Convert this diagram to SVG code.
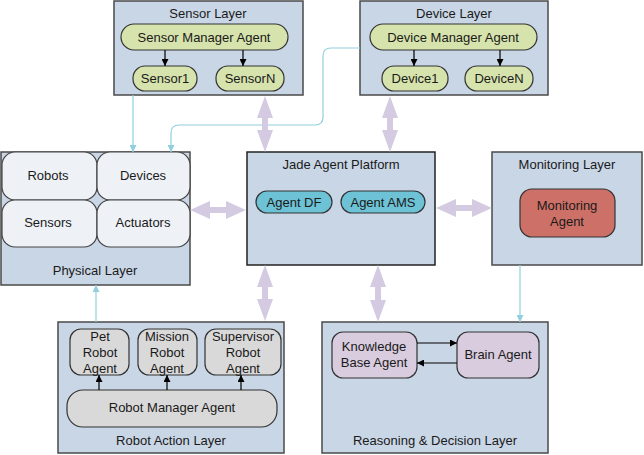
<svg xmlns="http://www.w3.org/2000/svg" width="644" height="455" viewBox="0 0 644 455">
<defs>
<marker id="blk" viewBox="0 0 10 10" refX="10" refY="5" markerWidth="7" markerHeight="7" markerUnits="userSpaceOnUse" orient="auto"><path d="M0,0 L10,5 L0,10 Z" fill="#000"/></marker>
<marker id="cy" viewBox="0 0 10 10" refX="10" refY="5" markerWidth="7" markerHeight="7" markerUnits="userSpaceOnUse" orient="auto"><path d="M0,0 L10,5 L0,10 Z" fill="#8FD0DC"/></marker>
</defs>
<style>
.layer{fill:#C9D6E6;stroke:#4a4a4a;stroke-width:1.5}
.green{fill:#D6E3AC;stroke:#333;stroke-width:1.2}
.cyanp{fill:#6EC2D5;stroke:#333;stroke-width:1.2}
.grey{fill:#D9D9D9;stroke:#333;stroke-width:1.2}
.lav{fill:#D9CCDF;stroke:#333;stroke-width:1.2}
.red{fill:#CD7067;stroke:#333;stroke-width:1.2}
.phys{fill:#EEF2F7;stroke:#444;stroke-width:1.2}
text{font-family:"Liberation Sans",Arial,sans-serif;font-size:13px;fill:#1a1a1a;text-anchor:middle}
.bl{fill:none;stroke:#000;stroke-width:1.2}
.cl{fill:none;stroke:#8FD0DC;stroke-width:1.2}
.big{fill:#D4CBE3}
</style>
<g id="sensor-layer">
<rect class="layer" x="114" y="1" width="189" height="94"/>
<text x="208" y="18">Sensor Layer</text>
<rect class="green" x="121" y="24" width="167" height="26" rx="13"/>
<text x="204" y="42">Sensor Manager Agent</text>
<rect class="green" x="133" y="66" width="64" height="25" rx="12"/>
<text x="165" y="83">Sensor1</text>
<rect class="green" x="216" y="66" width="68" height="25" rx="12"/>
<text x="250" y="83">SensorN</text>
</g>
<g id="device-layer">
<rect class="layer" x="360" y="1" width="188" height="94"/>
<text x="454" y="18">Device Layer</text>
<rect class="green" x="370" y="24" width="167" height="26" rx="13"/>
<text x="453" y="42">Device Manager Agent</text>
<rect class="green" x="382" y="66" width="66" height="25" rx="12"/>
<text x="415" y="83">Device1</text>
<rect class="green" x="465" y="66" width="68" height="25" rx="12"/>
<text x="499" y="83">DeviceN</text>
</g>
<g id="physical-layer">
<rect class="layer" x="1" y="152" width="189" height="133"/>
<rect class="phys" x="2" y="152" width="95" height="48" rx="13"/>
<rect class="phys" x="97" y="152" width="93" height="48" rx="13"/>
<rect class="phys" x="2" y="200" width="95" height="47" rx="13"/>
<rect class="phys" x="97" y="200" width="93" height="47" rx="13"/>
<text x="48" y="180">Robots</text>
<text x="143" y="180">Devices</text>
<text x="48" y="227">Sensors</text>
<text x="143" y="227">Actuators</text>
<text x="95" y="275">Physical Layer</text>
</g>
<g id="jade-platform">
<rect class="layer" x="247" y="152" width="188" height="113" style="stroke:#222"/>
<text x="341" y="169">Jade Agent Platform</text>
<rect class="cyanp" x="256" y="191" width="76" height="22" rx="11"/>
<text x="294" y="207">Agent DF</text>
<rect class="cyanp" x="341" y="191" width="84" height="22" rx="11"/>
<text x="383" y="207">Agent AMS</text>
</g>
<g id="monitoring-layer">
<rect class="layer" x="492" y="152" width="150" height="113"/>
<text x="567" y="169">Monitoring Layer</text>
<rect class="red" x="520" y="189" width="95" height="48" rx="12"/>
<text x="567" y="210">Monitoring</text>
<text x="567" y="226">Agent</text>
</g>
<g id="robot-action-layer">
<rect class="layer" x="58" y="322" width="226" height="131"/>
<rect class="grey" x="70" y="329" width="59" height="46" rx="11"/>
<text x="100" y="341">Pet</text>
<text x="100" y="357">Robot</text>
<text x="100" y="373">Agent</text>
<rect class="grey" x="138" y="329" width="59" height="46" rx="11"/>
<text x="167" y="341">Mission</text>
<text x="167" y="357">Robot</text>
<text x="167" y="373">Agent</text>
<rect class="grey" x="205" y="329" width="76" height="46" rx="11"/>
<text x="243" y="341">Supervisor</text>
<text x="243" y="357">Robot</text>
<text x="243" y="373">Agent</text>
<rect class="grey" x="67" y="390" width="210" height="37" rx="16"/>
<text x="172" y="412">Robot Manager Agent</text>
<text x="171" y="445">Robot Action Layer</text>
</g>
<g id="reasoning-layer">
<rect class="layer" x="322" y="322" width="226" height="131"/>
<rect class="lav" x="332" y="332" width="85" height="46" rx="11"/>
<text x="374" y="351">Knowledge</text>
<text x="374" y="367">Base Agent</text>
<rect class="lav" x="457" y="332" width="82" height="46" rx="11"/>
<text x="498" y="359">Brain Agent</text>
<text x="435" y="445">Reasoning &amp; Decision Layer</text>
</g>
<g id="connectors">
<line class="bl" x1="165" y1="50" x2="165" y2="66" marker-end="url(#blk)"/>
<line class="bl" x1="243" y1="50" x2="243" y2="66" marker-end="url(#blk)"/>
<line class="bl" x1="414" y1="50" x2="414" y2="66" marker-end="url(#blk)"/>
<line class="bl" x1="500" y1="50" x2="500" y2="66" marker-end="url(#blk)"/>
<line class="bl" x1="99" y1="390" x2="99" y2="375" marker-end="url(#blk)"/>
<line class="bl" x1="167" y1="390" x2="167" y2="375" marker-end="url(#blk)"/>
<line class="bl" x1="241" y1="390" x2="241" y2="375" marker-end="url(#blk)"/>
<line class="bl" x1="417" y1="343" x2="457" y2="343" marker-end="url(#blk)"/>
<line class="bl" x1="457" y1="363" x2="417" y2="363" marker-end="url(#blk)"/>
<line class="cl" x1="133" y1="95" x2="133" y2="152" marker-end="url(#cy)"/>
<path class="cl" d="M360,48 L331,48 Q323,48 323,56 L323,117 Q323,125 315,125 L179,125 Q171,125 171,133 L171,152" marker-end="url(#cy)"/>
<line class="cl" x1="96" y1="322" x2="96" y2="285" marker-end="url(#cy)"/>
<line class="cl" x1="520" y1="265" x2="520" y2="322" marker-end="url(#cy)"/>
<path class="big" d="M265,96 L273,118 L268,118 L268,130 L273,130 L265,152 L257,130 L262,130 L262,118 L257,118 Z"/>
<path class="big" d="M390,96 L398,118 L393,118 L393,130 L398,130 L390,152 L382,130 L387,130 L387,118 L382,118 Z"/>
<path class="big" d="M265,265 L273,287 L268,287 L268,299 L273,299 L265,321 L257,299 L262,299 L262,287 L257,287 Z"/>
<path class="big" d="M378,265 L386,287 L381,287 L381,300 L386,300 L378,322 L370,300 L375,300 L375,287 L370,287 Z"/>
<path class="big" d="M190,210 L210,201 L210,207 L226,207 L226,201 L246,210 L226,219 L226,213 L210,213 L210,219 Z"/>
<path class="big" d="M436,208 L456,199 L456,205 L472,205 L472,199 L492,208 L472,217 L472,211 L456,211 L456,217 Z"/>
</g>
</svg>
